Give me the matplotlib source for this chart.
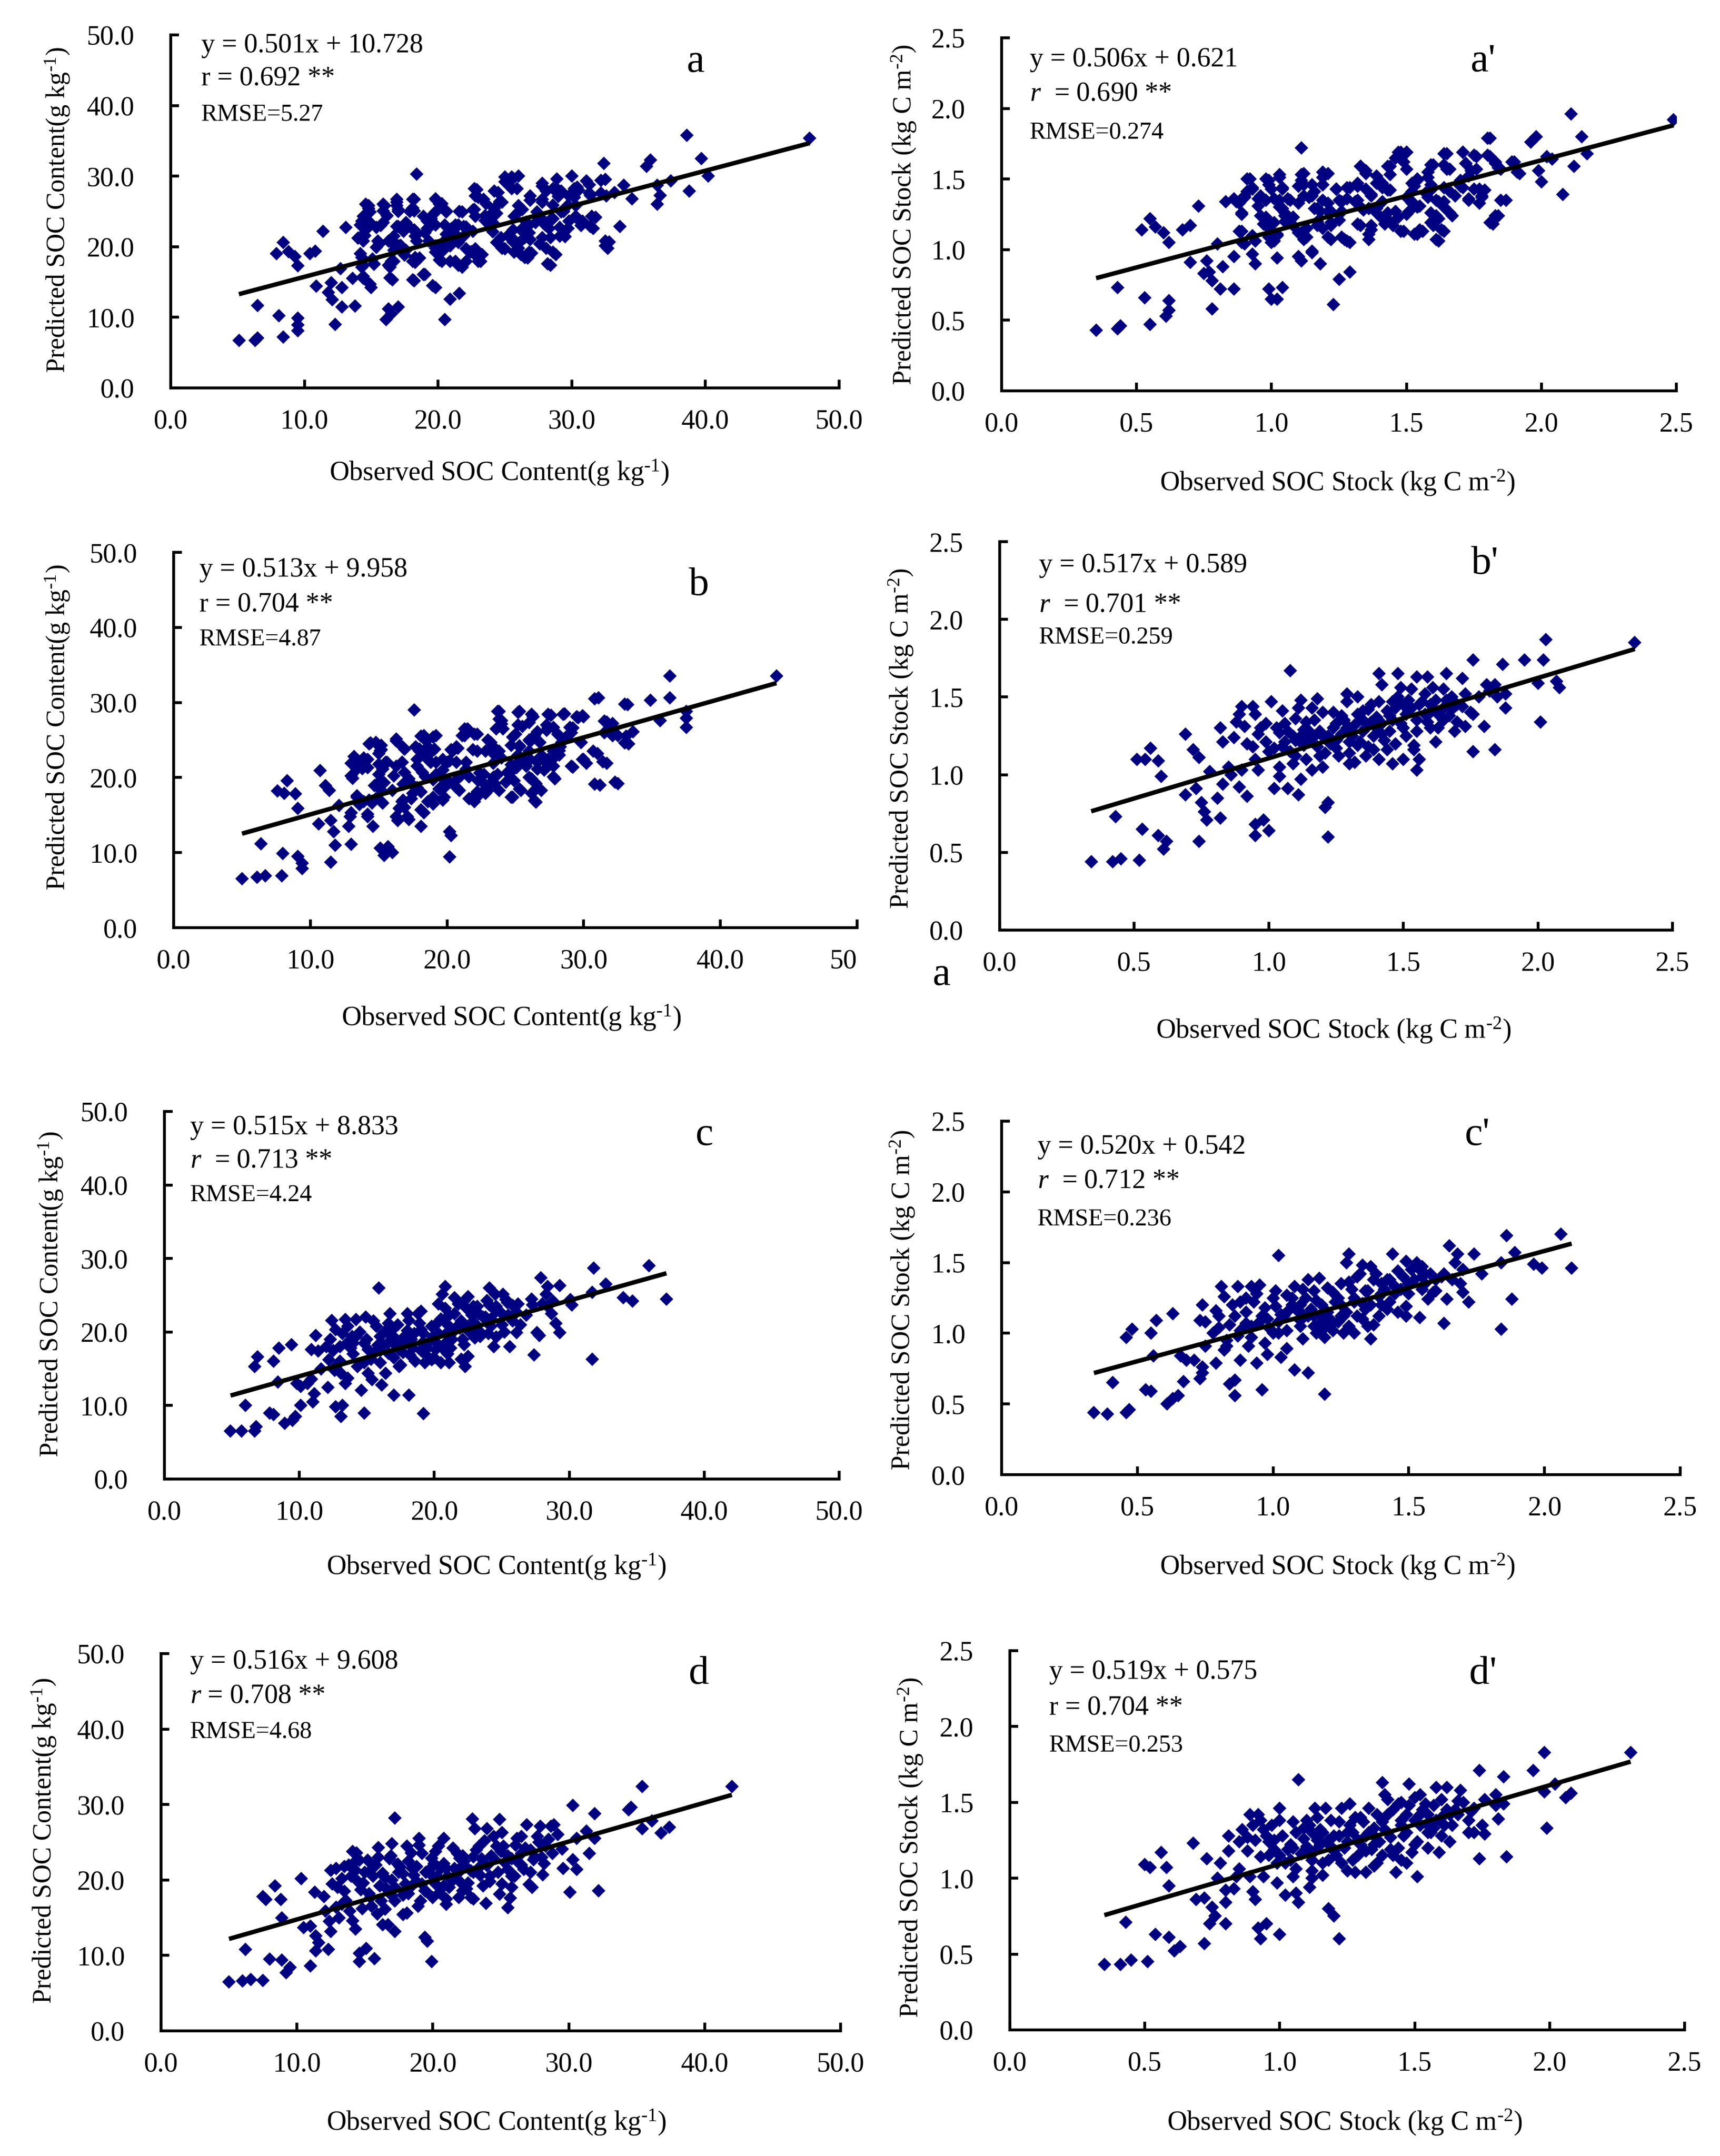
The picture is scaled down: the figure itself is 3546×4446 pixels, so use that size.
import numpy as np
import matplotlib
matplotlib.use("Agg")
import matplotlib.pyplot as plt

plt.rcParams["font.family"] = ["Liberation Serif", "DejaVu Serif"]
plt.rcParams["mathtext.fontset"] = "custom"
plt.rcParams["mathtext.rm"] = "Liberation Serif"
plt.rcParams["mathtext.it"] = "Liberation Serif:italic"

# ---- data: (observed, predicted) ----
pts_a = [(5.1,6.7),(6.3,6.7),(6.5,7.1),(6.5,11.7),(8.1,10.2),(8.4,7.2),(7.9,19.0),(8.4,20.6),(8.8,19.3),
         (9.3,18.6),(9.5,17.3),(9.5,9.9),(9.5,8.9),(9.5,8.1),(10.4,19.0),(10.8,19.4),(10.9,14.4),(11.4,22.2),
         (11.8,13.5),(12.0,14.9),(12.1,12.5),(12.3,9.0),(12.7,16.9),(12.8,14.2),(12.8,11.5),(13.1,22.7),
         (13.6,15.5),(13.8,11.6),(14.0,21.2),(14.2,23.1),(14.3,18.5),(14.4,15.5),(14.3,17.1),(14.8,25.8),
         (14.9,24.9),(14.7,22.6),(14.5,21.6),(15.0,14.2),(15.2,17.5),(15.6,20.4),(15.7,23.0),(16.0,25.8),
         (16.2,24.4),(16.1,9.7),(16.3,11.2),(16.5,10.5),(16.6,15.3),(16.4,17.1),(16.7,17.9),(16.9,26.3),
         (17.0,25.0),(17.0,11.5),(16.7,20.7),(17.2,20.2),(17.6,19.5),(17.0,22.9),(17.7,23.1),(18.2,15.2),
         (18.4,30.3),(18.2,26.7),(18.2,25.1),(18.3,22.1),(18.6,18.4),(18.3,17.8),(19.0,16.1),(19.2,22.6),
         (19.4,24.0),(19.8,24.9),(19.8,14.2),(19.9,26.6),(20.1,26.0),(19.8,19.8),(20.0,19.1),(20.3,17.9),
         (20.4,20.7),(20.6,24.9),(20.5,9.7),(20.9,12.6),(21.6,13.4),(21.3,17.9),(21.8,17.1),(21.0,22.6),
         (21.5,23.1),(22.1,22.8),(21.8,24.9),(22.5,19.3),(22.8,19.7),(22.9,28.1),(22.7,25.3),(23.0,27.0),
         (23.2,17.9),(23.3,18.9),(23.5,24.4),(23.9,23.0),(24.1,22.1),(24.5,27.7),(24.8,26.3),(24.5,20.5),
         (24.8,19.8),(25.2,29.0),(25.6,29.7),(26.0,30.0),(25.9,28.2),(25.2,21.6),(25.6,20.7),(26.0,19.8),
         (26.2,18.9),(26.3,25.3),(26.6,23.5),(26.9,26.6),(26.7,18.4),(27.0,19.1),(26.9,21.0),(27.4,24.9),
         (27.8,26.3),(27.8,28.6),(28.1,27.9),(28.0,23.5),(28.3,22.6),(28.1,19.8),(28.4,17.4),(28.9,29.6),
         (29.2,27.9),(28.8,18.9),(29.2,24.9),(29.5,21.4),(29.7,22.6),(30.0,30.0),(30.1,27.2),(30.3,25.8),
         (30.4,24.0),(30.7,23.0),(30.5,28.0),(31.3,28.8),(31.4,27.3),(31.6,22.6),(31.8,24.2),(32.4,31.8),
         (32.5,29.5),(32.6,27.2),(32.7,19.8),(32.8,20.7),(33.2,27.7),(33.6,22.9),(33.9,28.7),(34.5,26.8),
         (35.6,31.4),(35.9,32.3),(36.4,28.7),(36.6,27.3),(36.4,26.0),(37.4,29.3),(38.6,35.8),(38.8,27.9),
         (39.7,32.5),(40.2,30.0),(47.8,35.4),
         (25.0,29.9),(25.5,29.9),(25.0,29.2),(25.5,28.2),(27.8,29.0),(28.6,28.2),(28.9,28.2),(31.1,29.3),
         (32.2,29.4),(30.4,28.4),(31.3,27.6),(29.8,27.2),(26.9,27.2),(27.8,26.7),(26.0,25.8),(26.0,24.9),
         (24.2,27.9),(24.6,26.4),(22.7,28.2),(22.8,27.2),(23.4,26.7),(23.6,26.1),(24.2,25.4),(24.4,24.7),
         (22.6,25.2),(21.6,25.0),(22.8,24.3),(23.8,24.3),(23.5,23.7),(24.1,23.4),(19.8,26.8),(20.3,26.1),
         (19.7,24.7),(20.6,25.1),(19.5,24.0),(18.1,26.7),(18.1,25.5),(17.9,25.0),(16.9,26.7),(16.9,25.8),
         (17.0,25.3),(15.9,26.0),(15.9,25.1),(14.6,26.0),(14.8,25.4),(14.4,24.3),(14.3,23.6),(14.4,22.7),
         (14.9,23.4),(15.4,22.7),(15.9,23.4),(16.9,22.9),(17.6,23.4),(17.4,22.2),(16.7,21.5),(16.3,20.8),
         (15.5,20.8),(14.4,21.8),(14.4,20.8),(18.2,22.4),(18.3,21.5),(18.4,20.8),(18.9,24.3),(19.2,23.6),
         (19.4,22.9),(19.0,22.0),(19.8,23.1),(20.5,23.1),(21.3,23.1),(21.9,22.9),(19.3,20.8),(19.8,20.1),
         (19.8,19.2),(20.4,19.5),(20.9,20.1),(20.6,21.8),(20.9,20.8),(21.2,22.0),(21.9,21.5),(22.6,22.2),
         (21.5,20.6),(22.1,19.7),(22.4,19.2),(22.8,18.8),(22.1,17.9),(23.0,17.9),(21.5,17.4),(20.9,17.9),
         (20.1,18.1),(18.3,18.5),(18.1,17.9),(16.5,17.9),(16.3,17.4),(15.2,17.6),(15.1,18.3),(14.4,17.4),
         (14.2,19.0),(15.4,19.9),(17.1,20.1),(16.5,20.6),(16.7,19.5),(17.5,18.8),(24.4,20.6),(24.7,21.3),
         (25.5,21.3),(25.0,19.7),(25.7,19.2),(26.1,20.6),(26.5,18.5),(26.8,19.2),(27.6,20.4),(27.8,21.3),
         (28.6,19.2),(28.2,17.6),(28.4,21.3),(29.1,21.5),(29.4,22.0),(29.1,22.7),(26.2,22.4),(26.7,22.9),
         (27.3,23.4),(27.8,23.8),(28.0,23.1),(28.5,24.0),(29.8,23.6),(30.3,24.3),(30.8,23.6),(31.4,22.9),
         (31.5,24.3),(32.5,20.1),(32.5,20.8),(26.5,21.3),(26.8,22.0),(25.6,22.4),(25.7,24.3),(28.6,24.0),
         (29.4,25.0),(29.7,25.9),(28.6,25.9),(29.0,27.1),(30.2,27.0),(30.2,28.2),(32.2,27.6),(14.4,15.8),
         (14.9,14.7),(16.4,15.6),(18.1,15.3),(18.9,16.1),(19.6,14.5)]

pts_a2 = [(0.35,0.43),(0.43,0.44),(0.44,0.46),(0.43,0.73),(0.52,1.14),(0.53,0.66),(0.55,1.22),(0.57,1.16),
          (0.55,0.47),(0.60,1.12),(0.62,1.05),(0.62,0.64),(0.62,0.57),(0.61,0.53),(0.67,1.14),(0.70,1.17),
          (0.70,0.91),(0.73,1.31),(0.76,0.92),(0.77,0.84),(0.75,0.83),(0.78,0.78),(0.78,0.58),(0.80,1.04),
          (0.81,0.72),(0.82,0.88),(0.83,1.34),(0.86,0.95),(0.86,0.72),(0.87,1.34),(0.89,1.25),(0.90,1.38),
          (0.89,1.13),(0.90,1.04),(0.92,1.50),(0.93,1.43),(0.93,0.97),(0.94,0.90),(0.94,1.06),(0.95,1.31),
          (0.96,1.38),(0.98,1.23),(0.99,1.15),(0.99,1.49),(1.00,1.43),(0.99,0.72),(1.00,0.65),(1.01,1.36),
          (1.01,1.06),(1.02,1.10),(1.02,0.94),(1.02,0.65),(1.03,1.51),(1.04,1.43),(1.04,0.73),(1.04,1.29),
          (1.05,1.24),(1.07,1.35),(1.08,1.17),(1.11,0.92),(1.11,1.72),(1.12,1.54),(1.12,1.46),(1.12,1.38),
          (1.13,1.15),(1.13,1.09),(1.11,1.12),(1.15,0.98),(1.15,1.38),(1.17,1.29),(1.17,1.20),(1.18,0.90),
          (1.19,1.46),(1.21,1.54),(1.21,1.27),(1.22,1.17),(1.22,1.07),(1.23,0.61),(1.25,0.79),(1.24,1.43),
          (1.26,1.34),(1.26,1.27),(1.27,1.07),(1.29,0.84),(1.29,1.05),(1.29,1.44),(1.31,1.34),(1.32,1.45),
          (1.33,1.59),(1.35,1.54),(1.33,1.17),(1.34,1.28),(1.36,1.07),(1.37,1.14),(1.37,1.38),(1.39,1.47),
          (1.39,1.29),(1.41,1.34),(1.42,1.21),(1.44,1.42),(1.44,1.59),(1.45,1.17),(1.47,1.23),(1.47,1.69),
          (1.48,1.64),(1.50,1.69),(1.50,1.57),(1.49,1.13),(1.51,1.27),(1.52,1.34),(1.53,1.45),(1.54,1.49),
          (1.54,1.11),(1.56,1.13),(1.55,1.31),(1.57,1.40),(1.58,1.55),(1.60,1.60),(1.60,1.17),(1.61,1.24),
          (1.62,1.06),(1.62,1.34),(1.64,1.34),(1.64,1.13),(1.65,1.68),(1.66,1.57),(1.67,1.24),(1.68,1.38),
          (1.70,1.45),(1.71,1.69),(1.72,1.61),(1.73,1.52),(1.73,1.35),(1.75,1.43),(1.76,1.57),(1.76,1.66),
          (1.78,1.38),(1.79,1.42),(1.81,1.79),(1.81,1.66),(1.83,1.61),(1.85,1.57),(1.82,1.18),(1.84,1.24),
          (1.87,1.35),(1.90,1.62),(1.92,1.54),(1.96,1.76),(1.98,1.80),(1.99,1.56),(2.00,1.48),(2.02,1.66),
          (2.04,1.64),(2.08,1.39),(2.11,1.96),(2.12,1.59),(2.15,1.80),(2.17,1.68),(2.49,1.92),
          (1.48,1.69),(1.50,1.69),(1.46,1.65),(1.49,1.62),(1.64,1.68),(1.71,1.69),(1.75,1.67),(1.80,1.79),
          (1.80,1.67),(1.83,1.62),(1.84,1.58),(1.89,1.62),(1.91,1.55),(1.59,1.60),(1.64,1.60),(1.65,1.57),
          (1.72,1.61),(1.74,1.56),(1.33,1.59),(1.35,1.56),(1.43,1.59),(1.44,1.53),(1.39,1.52),(1.41,1.47),
          (1.19,1.55),(1.19,1.51),(1.11,1.53),(1.11,1.49),(1.10,1.45),(1.03,1.53),(0.98,1.50),(0.99,1.46),
          (1.04,1.44),(0.91,1.50),(0.93,1.44),(0.91,1.41),(0.86,1.36),(0.90,1.37),(0.88,1.33),(0.95,1.36),
          (0.98,1.35),(0.89,1.26),(0.96,1.24),(0.98,1.21),(1.03,1.35),(1.03,1.30),(1.06,1.36),(1.05,1.26),
          (1.08,1.23),(1.10,1.33),(1.14,1.37),(1.16,1.41),(1.15,1.46),(1.19,1.46),(1.24,1.43),(1.28,1.44),
          (1.32,1.47),(1.35,1.43),(1.37,1.39),(1.41,1.44),(1.43,1.42),(1.19,1.35),(1.21,1.33),(1.25,1.35),
          (1.28,1.36),(1.32,1.35),(1.16,1.29),(1.18,1.27),(1.22,1.27),(1.25,1.25),(1.08,1.23),(1.05,1.20),
          (0.97,1.18),(1.01,1.19),(0.88,1.13),(0.93,1.10),(0.89,1.05),(0.99,1.09),(1.02,1.11),(1.00,1.05),
          (1.10,1.12),(1.12,1.07),(1.17,1.17),(1.19,1.15),(1.22,1.19),(1.25,1.21),(1.33,1.30),(1.36,1.29),
          (1.39,1.26),(1.41,1.22),(1.43,1.26),(1.46,1.27),(1.50,1.25),(1.52,1.33),(1.54,1.30),(1.50,1.37),
          (1.52,1.41),(1.52,1.47),(1.54,1.50),(1.58,1.51),(1.59,1.46),(1.59,1.42),(1.58,1.37),(1.61,1.35),
          (1.64,1.44),(1.66,1.41),(1.70,1.49),(1.71,1.44),(1.77,1.43),(1.78,1.37),(1.73,1.36),(1.77,1.33),
          (1.85,1.35),(1.83,1.24),(1.81,1.19),(1.64,1.30),(1.66,1.26),(1.59,1.26),(1.62,1.22),(1.59,1.19),
          (1.63,1.14),(1.61,1.07),(1.55,1.14),(1.53,1.11),(1.48,1.13),(1.44,1.20),(1.42,1.18),(1.37,1.17),
          (1.36,1.11),(1.32,1.18),(1.28,1.06),(1.26,1.09),(1.21,1.09),(1.15,0.99),(1.10,0.95)]

pts_b = [(5.0,6.5),(6.1,6.7),(6.7,6.9),(6.4,11.2),(7.6,18.2),(8.1,17.9),(7.9,6.9),(8.0,9.9),(8.3,19.6),
         (8.9,17.8),(9.1,15.9),(9.1,9.5),(9.4,8.6),(9.4,7.9),(10.6,13.8),(10.7,20.9),(11.1,18.9),(11.4,18.3),
         (11.5,14.3),(11.7,12.8),(11.8,11.0),(11.5,8.7),(12.1,16.3),(12.8,13.5),(12.9,14.8),(13.0,11.1),
         (13.0,21.9),(13.1,19.9),(13.4,17.4),(13.6,16.4),(13.8,21.2),(13.9,22.6),(14.2,14.8),(14.4,24.6),
         (14.6,13.5),(14.3,17.0),(14.5,16.6),(14.8,24.6),(15.0,21.8),(15.1,23.6),(15.1,10.6),(15.4,9.6),
         (15.3,16.6),(15.4,19.3),(15.6,22.0),(15.7,10.8),(16.0,10.0),(16.0,18.3),(16.3,24.9),(16.4,14.3),
         (16.7,22.0),(16.9,23.8),(16.8,17.0),(16.9,16.0),(17.2,14.4),(17.3,19.3),(17.5,17.9),(17.6,29.0),
         (17.8,22.4),(18.0,23.8),(18.1,13.5),(18.3,15.3),(18.3,25.6),(18.5,24.9),(18.4,20.1),(18.8,22.0),
         (19.0,19.7),(19.0,16.5),(19.2,25.6),(19.1,23.8),(19.5,18.6),(19.8,17.4),(19.7,21.0),(20.0,22.0),
         (20.2,12.8),(20.3,12.3),(20.2,9.4),(20.4,23.5),(20.6,19.6),(20.8,23.9),(20.9,18.3),(21.3,25.6),
         (21.5,26.5),(21.4,22.0),(21.6,20.1),(21.8,17.2),(22.0,17.4),(22.2,23.5),(22.2,25.8),(22.4,20.6),
         (22.7,19.2),(22.8,17.9),(23.0,18.3),(23.2,24.7),(23.4,21.9),(23.5,20.1),(23.5,19.2),(23.8,18.3),
         (23.8,28.8),(24.0,27.6),(24.1,26.5),(23.8,23.5),(24.0,22.6),(24.6,20.6),(24.8,17.4),(25.0,25.8),
         (25.3,24.2),(25.3,28.8),(25.5,26.8),(25.4,18.3),(25.6,22.4),(25.8,21.5),(26.1,24.8),(26.3,28.1),
         (26.2,19.8),(26.5,19.2),(26.5,16.7),(26.6,26.1),(26.8,22.7),(26.9,18.3),(27.1,21.0),(27.4,26.6),
         (27.6,28.3),(27.7,22.4),(27.8,21.5),(27.9,19.8),(28.2,23.6),(28.4,24.7),(28.6,28.5),(28.8,25.6),
         (29.2,26.6),(29.2,21.4),(29.6,28.0),(29.8,24.7),(30.0,28.1),(30.0,22.4),(30.2,21.9),(31.0,23.2),
         (31.1,30.6),(31.2,19.0),(31.7,21.9),(31.7,27.4),(32.1,26.5),(32.1,27.2),(32.5,19.2),(32.5,25.6),
         (33.2,29.7),(33.3,24.5),(33.6,26.1),(34.9,30.3),(35.6,27.6),(36.3,33.5),(36.3,30.6),(37.5,28.8),
         (37.5,27.9),(37.5,26.7),(44.1,33.5),
         (23.7,28.8),(25.2,28.7),(26.2,28.4),(27.4,28.4),(28.5,28.4),(29.5,28.1),(29.9,28.2),(30.8,30.5),
         (33.0,29.8),(23.8,27.8),(24.0,27.1),(25.2,27.0),(26.0,27.3),(27.3,27.0),(27.8,26.7),(29.0,26.7),
         (29.1,26.0),(31.5,27.5),(31.9,26.9),(33.1,25.5),(33.0,24.6),(31.5,26.0),(32.1,25.6),(29.8,24.7),
         (23.6,26.5),(21.3,26.5),(22.0,25.8),(21.1,25.6),(18.1,25.5),(19.0,25.4),(16.3,25.1),(14.3,24.5),
         (14.8,24.7),(15.2,24.3),(16.8,24.0),(15.2,23.7),(15.0,23.2),(17.7,24.1),(18.0,23.5),(18.6,24.1),
         (18.9,23.5),(20.3,23.7),(20.7,24.1),(21.9,23.7),(23.0,25.0),(23.4,24.1),(22.8,23.5),(23.4,23.2),
         (24.8,25.4),(24.7,24.3),(25.3,24.1),(26.0,25.0),(26.4,25.6),(26.8,24.7),(27.3,26.3),(28.1,25.8),
         (28.6,25.2),(28.3,24.1),(27.8,23.5),(28.2,23.0),(27.0,22.8),(27.4,22.4),(26.6,22.0),(27.4,21.7),
         (26.0,23.5),(26.1,22.4),(25.2,23.0),(25.3,22.2),(30.7,23.5),(29.9,22.4),(31.4,22.1),(29.1,21.5),
         (26.6,21.1),(27.8,20.1),(24.7,21.7),(25.1,21.3),(24.4,20.7),(23.7,20.4),(23.4,20.0),(23.1,19.1),
         (24.3,19.4),(24.9,19.6),(26.0,20.0),(26.4,19.4),(26.5,18.5),(26.2,17.9),(25.3,18.5),(24.7,17.4),
         (26.4,16.9),(30.8,19.1),(32.3,19.4),(22.7,20.4),(22.3,19.6),(22.8,18.5),(22.2,18.1),(21.6,17.2),
         (22.3,17.6),(22.0,16.8),(20.7,18.7),(20.2,19.4),(21.0,20.2),(21.4,21.1),(20.7,22.0),(20.2,22.2),
         (19.7,22.4),(19.2,22.0),(18.4,22.8),(18.6,22.4),(17.8,21.5),(18.2,20.7),(19.2,20.4),(19.7,19.8),
         (19.4,18.5),(19.8,18.7),(19.7,17.0),(19.0,17.4),(18.6,16.8),(18.1,15.7),(17.4,17.2),(16.7,16.8),
         (16.5,15.9),(17.8,18.7),(18.1,18.1),(16.8,19.1),(17.2,19.8),(16.7,22.0),(16.3,21.5),(16.9,20.7),
         (16.1,20.2),(15.5,22.0),(15.3,21.1),(15.0,20.4),(15.1,19.6),(14.7,18.9),(15.2,18.3),(14.2,22.4),
         (13.6,22.0),(13.4,21.1),(14.2,21.3),(13.0,20.2),(13.1,22.0),(13.4,17.6),(13.9,16.8),(14.8,17.2),
         (15.2,16.8),(13.0,15.3),(14.2,15.1),(13.2,22.8),(16.3,14.8),(17.1,14.8)]

pts_b2 = [(0.34,0.44),(0.42,0.44),(0.45,0.46),(0.43,0.73),(0.52,0.45),(0.53,0.65),(0.51,1.10),(0.54,1.10),
          (0.56,1.17),(0.59,1.09),(0.60,0.99),(0.59,0.61),(0.61,0.52),(0.62,0.57),(0.69,1.26),(0.69,0.87),
          (0.72,1.16),(0.74,1.11),(0.73,0.91),(0.75,0.82),(0.76,0.76),(0.77,0.71),(0.74,0.57),(0.78,1.02),
          (0.81,0.85),(0.83,0.94),(0.82,1.30),(0.83,1.21),(0.82,0.72),(0.85,1.05),(0.86,1.00),(0.87,1.24),
          (0.88,1.34),(0.89,0.92),(0.89,1.39),(0.90,1.44),(0.91,1.31),(0.90,1.03),(0.92,0.86),(0.94,1.44),
          (0.95,1.39),(0.94,1.18),(0.95,1.10),(0.95,0.61),(0.95,0.68),(0.98,0.71),(1.00,0.64),(0.96,1.03),
          (0.97,1.30),(0.99,1.21),(1.01,1.47),(1.02,0.91),(1.03,1.30),(1.04,1.05),(1.04,0.99),(1.05,1.41),
          (1.06,1.21),(1.07,0.91),(1.07,1.28),(1.08,1.67),(1.09,1.07),(1.10,1.12),(1.11,1.43),(1.12,1.48),
          (1.11,0.87),(1.12,0.97),(1.12,1.25),(1.13,1.19),(1.14,1.34),(1.16,1.03),(1.16,1.43),(1.18,1.49),
          (1.17,1.25),(1.19,1.12),(1.20,1.05),(1.21,0.79),(1.22,0.82),(1.22,0.60),(1.23,1.20),(1.24,1.40),
          (1.25,1.33),(1.26,1.12),(1.29,1.47),(1.29,1.52),(1.29,1.30),(1.30,1.21),(1.30,1.07),(1.32,1.08),
          (1.33,1.39),(1.33,1.50),(1.33,1.19),(1.35,1.28),(1.36,1.12),(1.37,1.42),(1.38,1.34),(1.39,1.16),
          (1.41,1.10),(1.41,1.47),(1.41,1.65),(1.42,1.58),(1.42,1.26),(1.44,1.16),(1.45,1.28),(1.46,1.47),
          (1.47,1.43),(1.46,1.07),(1.48,1.65),(1.49,1.56),(1.50,1.30),(1.51,1.39),(1.50,1.10),(1.52,1.48),
          (1.53,1.43),(1.54,1.19),(1.54,1.16),(1.55,1.03),(1.55,1.63),(1.56,1.10),(1.57,1.47),(1.58,1.39),
          (1.59,1.34),(1.60,1.30),(1.59,1.63),(1.61,1.56),(1.62,1.21),(1.63,1.39),(1.65,1.43),(1.66,1.65),
          (1.66,1.48),(1.69,1.28),(1.70,1.34),(1.72,1.62),(1.73,1.31),(1.72,1.44),(1.76,1.74),(1.76,1.39),
          (1.76,1.15),(1.80,1.31),(1.81,1.58),(1.82,1.54),(1.84,1.58),(1.85,1.50),(1.84,1.16),(1.87,1.71),
          (1.88,1.43),(1.88,1.52),(1.95,1.74),(2.00,1.59),(2.01,1.34),(2.02,1.74),(2.03,1.87),(2.07,1.60),
          (2.08,1.56),(2.36,1.85),
          (1.00,1.15),(1.05,1.18),(1.10,1.22),(1.15,1.28),(1.20,1.25),(1.25,1.22),(1.30,1.30),(1.35,1.35),
          (1.40,1.30),(1.45,1.38),(1.50,1.45),(1.55,1.35),(1.60,1.45),(1.65,1.35),(1.68,1.42),(1.27,1.38),
          (0.92,1.20),(0.96,1.26),(0.99,1.33),(1.02,1.17),(1.04,1.27),(1.06,1.33),(1.08,1.15),(1.09,1.25),
          (1.10,1.36),(1.13,1.29),(1.14,1.10),(1.15,1.22),(1.17,1.35),(1.18,1.18),(1.19,1.28),(1.20,1.40),
          (1.21,1.14),(1.22,1.25),(1.24,1.30),(1.25,1.17),(1.27,1.26),(1.28,1.35),(1.30,1.14),(1.31,1.25),
          (1.32,1.32),(1.34,1.21),(1.35,1.41),(1.36,1.30),(1.37,1.18),(1.38,1.45),(1.39,1.25),(1.40,1.37),
          (1.42,1.33),(1.43,1.22),(1.44,1.41),(1.46,1.35),(1.47,1.20),(1.48,1.50),(1.49,1.33),(1.51,1.25),
          (1.52,1.41),(1.53,1.55),(1.55,1.28),(1.56,1.45),(1.58,1.52),(1.60,1.40),(1.62,1.48),(1.63,1.30),
          (1.65,1.55),(1.67,1.38),(1.68,1.50),(1.70,1.45),(1.73,1.52),(1.75,1.40),(1.78,1.50)]

pts_c = [(4.9,6.5),(5.7,6.5),(6.7,6.5),(6.8,7.1),(6.0,10.0),(6.7,15.3),(6.9,16.6),(8.1,16.0),(7.8,9.0),
         (8.1,8.8),(8.5,17.8),(8.4,13.2),(8.9,7.6),(9.5,8.0),(9.7,8.5),(9.4,18.3),(9.8,13.0),(10.1,12.6),
         (10.1,10.0),(10.6,13.0),(10.9,13.6),(11.0,10.5),(11.1,11.6),(10.9,17.6),(11.4,17.4),(11.2,19.5),
         (12.1,12.5),(12.2,16.2),(12.3,19.0),(12.4,21.6),(12.7,20.3),(12.7,9.8),(13.1,8.5),(13.2,10.0),
         (13.1,14.4),(13.4,13.0),(13.6,13.7),(13.4,21.7),(13.6,20.8),(13.9,19.4),(13.5,18.5),(14.2,21.7),
         (14.2,19.4),(14.3,15.3),(14.6,12.1),(14.8,9.0),(14.9,22.0),(14.8,18.5),(15.1,17.6),(15.1,14.4),
         (15.4,13.5),(15.9,26.0),(15.7,20.8),(16.0,19.4),(16.0,15.8),(16.1,12.8),(16.4,14.4),(16.6,17.1),
         (16.6,21.2),(16.9,20.3),(17.0,11.4),(18.1,11.4),(17.2,18.0),(17.4,17.6),(17.4,15.3),(18.0,22.5),
         (18.1,21.6),(17.8,19.4),(18.1,18.5),(18.2,16.9),(18.4,17.8),(18.8,22.5),(19.0,20.3),(19.1,18.5),
         (19.2,8.9),(19.3,15.8),(19.5,16.7),(19.9,19.4),(20.1,17.6),(20.1,21.0),(20.5,15.8),(20.7,17.6),
         (20.6,25.1),(20.8,26.2),(20.8,23.2),(21.1,22.3),(21.1,15.8),(21.3,19.0),(21.5,24.7),(21.8,23.8),
         (21.7,20.8),(22.1,19.0),(22.2,24.2),(22.4,23.2),(22.3,15.3),(22.5,16.7),(22.8,22.3),(23.0,21.2),
         (23.3,22.5),(23.4,19.4),(24.1,26.0),(24.1,23.7),(24.2,20.8),(24.4,18.0),(24.5,25.1),(24.6,19.3),
         (25.1,25.1),(25.3,24.4),(25.5,22.3),(25.6,18.0),(25.8,23.6),(26.1,22.7),(26.1,19.9),(26.4,21.0),
         (27.3,23.7),(27.4,16.9),(27.6,19.9),(27.8,19.5),(27.9,27.4),(28.3,25.1),(28.4,26.2),(28.4,23.5),
         (28.7,22.5),(29.0,21.2),(29.3,26.3),(29.3,19.9),(30.1,24.4),(30.2,23.7),(31.7,25.4),(31.8,28.7),
         (31.7,16.3),(32.7,26.5),(34.0,24.7),(34.7,24.2),(35.9,29.0),(37.2,24.5),
         (15.5,17.0),(16.2,18.2),(17.0,16.5),(17.6,19.0),(18.5,19.8),(19.0,17.5),(19.6,18.6),(20.3,19.8),
         (20.8,18.5),(21.5,20.2),(22.0,21.5),(22.6,20.0),(23.2,23.5),(23.8,22.0),(24.6,22.8),(25.0,21.0),
         (14.0,17.0),(13.0,16.0),(12.6,14.8),(16.8,19.5),(19.8,16.2),(21.0,17.0),
         (12.5,17.5),(13.0,18.0),(13.8,17.8),(14.5,20.0),(15.0,19.0),(15.3,16.3),(15.8,18.2),(16.3,20.0),
         (16.6,18.6),(17.0,19.3),(17.3,21.0),(17.7,17.2),(18.0,20.2),(18.3,19.0),(18.6,16.0),(18.9,21.2),
         (19.2,19.8),(19.5,17.8),(19.8,20.8),(20.2,18.5),(20.5,21.8),(20.9,19.8),(21.2,17.8),(21.5,22.5),
         (21.9,20.5),(22.2,18.3),(22.6,21.0),(22.9,23.5),(23.3,20.2),(23.6,22.0),(23.9,24.3),(24.2,21.8),
         (24.6,23.5),(25.0,22.5),(25.4,24.0),(25.8,21.5),(26.2,23.8),(26.8,22.3),(27.2,24.5),(28.0,23.8),
         (28.8,24.2),(16.0,17.5),(14.0,18.5),(13.2,19.8),(12.0,18.0),(11.6,15.0),(12.8,15.5),(14.8,15.8),
         (17.5,15.5),(20.0,16.5),(22.0,16.3),(23.0,19.2),(19.0,22.8),(20.3,23.8),(21.0,21.0),(22.5,24.8),
         (24.0,19.8),(25.2,20.0),(16.7,22.5),(15.5,21.5)]

pts_c2 = [(0.34,0.44),(0.39,0.43),(0.46,0.44),(0.47,0.46),(0.41,0.65),(0.46,0.97),(0.48,1.03),(0.53,0.60),
          (0.55,0.59),(0.55,1.00),(0.56,0.84),(0.57,1.09),(0.61,0.50),(0.63,0.54),(0.65,0.56),(0.63,1.14),
          (0.66,0.84),(0.68,0.81),(0.67,0.66),(0.71,0.81),(0.73,1.09),(0.75,1.08),(0.73,0.68),(0.74,0.72),
          (0.74,0.76),(0.74,1.20),(0.75,0.91),(0.79,0.79),(0.79,1.16),(0.80,1.04),(0.81,1.33),(0.82,1.26),
          (0.82,0.88),(0.83,0.91),(0.84,0.64),(0.86,0.67),(0.86,0.56),(0.84,1.06),(0.86,1.12),(0.87,1.33),
          (0.88,1.22),(0.87,0.98),(0.88,0.81),(0.90,1.25),(0.90,1.07),(0.91,0.91),(0.92,1.33),(0.93,1.22),
          (0.94,0.79),(0.95,1.34),(0.96,0.60),(0.96,1.12),(0.97,0.93),(0.98,0.85),(1.00,1.25),(1.01,1.19),
          (1.00,1.00),(1.02,1.00),(1.02,1.55),(1.03,0.83),(1.05,0.89),(1.04,1.12),(1.05,1.27),(1.07,1.25),
          (1.08,0.74),(1.09,1.16),(1.10,1.09),(1.11,0.96),(1.11,1.31),(1.13,1.38),(1.13,0.72),(1.14,1.17),
          (1.15,1.12),(1.16,1.23),(1.17,1.39),(1.18,1.02),(1.19,0.97),(1.19,0.57),(1.20,1.07),(1.21,1.05),
          (1.22,1.29),(1.23,1.22),(1.25,1.12),(1.26,1.00),(1.27,1.50),(1.28,1.56),(1.28,1.36),(1.29,1.31),
          (1.30,1.00),(1.31,1.12),(1.32,1.42),(1.33,1.48),(1.33,1.21),(1.34,1.17),(1.36,1.47),(1.37,1.38),
          (1.36,0.96),(1.37,1.06),(1.39,1.26),(1.40,1.35),(1.41,1.31),(1.42,1.17),(1.43,1.38),(1.44,1.56),
          (1.46,1.44),(1.47,1.31),(1.49,1.12),(1.49,1.19),(1.49,1.51),(1.51,1.45),(1.53,1.50),(1.55,1.47),
          (1.56,1.42),(1.54,1.11),(1.55,1.31),(1.57,1.24),(1.59,1.29),(1.63,1.07),(1.63,1.42),(1.64,1.24),
          (1.65,1.62),(1.67,1.50),(1.68,1.56),(1.69,1.35),(1.70,1.29),(1.72,1.22),(1.74,1.56),(1.77,1.42),
          (1.84,1.03),(1.84,1.50),(1.86,1.69),(1.88,1.24),(1.89,1.57),(1.96,1.49),(1.99,1.46),(2.06,1.70),
          (2.10,1.46),
          (1.05,1.15),(1.10,1.20),(1.15,1.05),(1.20,1.15),(1.25,1.20),(1.30,1.25),(1.35,1.30),(1.40,1.20),
          (1.45,1.28),(1.50,1.35),(1.55,1.40),(1.60,1.38),(1.24,1.08),(1.18,1.12),(0.98,1.10),(0.92,1.05),
          (0.78,1.00),(0.80,1.12),(0.83,0.95),(0.85,1.20),(0.88,1.02),(0.90,1.15),(0.92,0.97),(0.94,1.28),
          (0.95,1.08),(0.97,1.18),(0.99,1.03),(1.01,1.30),(1.03,1.13),(1.05,1.02),(1.07,1.20),(1.08,1.33),
          (1.10,1.05),(1.12,1.25),(1.13,1.12),(1.15,1.30),(1.16,1.00),(1.18,1.20),(1.20,1.32),(1.21,1.10),
          (1.22,1.02),(1.24,1.25),(1.25,1.35),(1.27,1.15),(1.28,1.05),(1.30,1.22),(1.31,1.40),(1.33,1.10),
          (1.34,1.30),(1.36,1.20),(1.38,1.42),(1.39,1.12),(1.40,1.28),(1.42,1.38),(1.43,1.22),(1.45,1.33),
          (1.46,1.15),(1.48,1.40),(1.50,1.28),(1.52,1.38),(1.54,1.45),(1.56,1.35),(1.58,1.42),(1.60,1.30),
          (1.62,1.40),(1.66,1.38),(1.70,1.45),(1.18,1.08),(1.26,1.12),(1.35,1.05),(1.10,1.15),(1.02,1.08)]

pts_d = [(5.0,6.5),(6.0,6.6),(6.6,6.8),(7.5,6.7),(6.2,10.8),(7.5,17.8),(7.7,17.4),(8.0,9.5),(8.4,19.2),
         (8.8,17.4),(8.9,15.0),(8.9,9.4),(9.2,7.7),(9.5,8.4),(10.3,20.2),(10.5,13.7),(11.0,13.9),(11.0,8.6),
         (11.3,18.4),(11.4,12.6),(11.6,11.7),(11.4,10.6),(12.0,17.8),(12.1,15.9),(12.3,10.8),(12.4,14.5),
         (12.5,13.2),(12.6,19.5),(12.5,21.3),(12.9,21.5),(12.9,16.4),(13.1,15.0),(13.3,20.2),(13.5,21.8),
         (13.8,22.0),(13.6,17.3),(13.9,15.9),(14.1,14.6),(14.3,13.5),(14.1,23.8),(14.4,23.6),(14.3,21.3),
         (14.6,22.6),(14.6,10.3),(14.6,9.2),(14.7,18.7),(14.9,19.6),(14.8,16.2),(15.1,10.9),(15.2,22.6),
         (15.4,21.3),(15.4,17.7),(15.7,9.6),(15.9,15.5),(16.0,24.3),(16.1,19.2),(16.3,20.9),(16.3,14.1),
         (16.7,14.1),(16.5,16.1),(16.9,23.2),(17.0,17.9),(17.2,17.2),(17.2,28.2),(17.2,13.2),(17.4,22.1),
         (17.6,21.7),(17.8,15.4),(18.1,15.6),(18.0,19.5),(18.2,18.2),(18.1,24.5),(18.4,23.6),(18.5,21.5),
         (18.6,20.6),(18.9,16.5),(19.0,24.6),(19.2,19.5),(19.4,18.6),(19.4,12.4),(19.6,11.9),(19.9,9.2),
         (19.9,22.9),(20.1,22.2),(20.0,17.7),(20.2,19.5),(20.4,24.5),(20.8,25.5),(20.6,21.5),(20.8,19.2),
         (21.0,16.8),(21.1,20.5),(21.6,21.5),(21.8,23.5),(22.0,22.9),(21.9,17.7),(22.2,18.6),(22.4,21.8),
         (22.6,19.6),(22.8,17.7),(22.9,28.1),(23.1,26.8),(23.0,23.1),(23.4,24.5),(23.5,20.6),(23.7,19.2),
         (23.9,16.9),(24.0,21.9),(24.2,20.5),(24.5,25.8),(24.7,24.5),(24.9,28.0),(25.1,26.3),(24.9,18.1),
         (25.1,19.5),(25.3,22.3),(25.5,21.4),(25.5,16.3),(25.7,17.6),(25.8,20.5),(26.1,24.6),(26.3,22.3),
         (26.5,25.8),(26.7,21.4),(26.9,27.3),(27.1,19.4),(27.3,19.0),(27.4,22.7),(27.7,25.8),(27.9,27.1),
         (28.1,20.7),(28.3,24.5),(28.5,25.4),(28.7,27.1),(28.9,27.3),(29.5,24.1),(29.6,21.5),(30.1,18.4),
         (30.3,29.9),(30.3,22.7),(30.6,21.4),(30.6,25.5),(31.3,26.5),(31.5,23.5),(31.9,25.5),(31.9,28.8),
         (32.2,18.6),(34.4,29.3),(34.6,29.6),(35.4,32.4),(35.4,26.8),(36.1,27.8),(36.8,26.2),(37.4,27.0),
         (42.0,32.4),
         (17.0,20.0),(17.8,20.8),(18.8,19.8),(19.5,21.0),(20.3,20.5),(21.0,21.5),(21.5,20.0),(22.3,22.5),
         (23.0,21.0),(23.6,22.8),(24.3,23.2),(25.0,23.8),(25.8,22.8),(26.5,23.5),(27.2,24.0),(28.0,23.0),
         (15.6,20.5),(16.6,18.8),(19.1,17.2),(22.0,19.8),
         (13.0,19.0),(13.5,18.5),(14.0,20.5),(14.5,19.8),(15.0,21.0),(15.3,18.2),(15.8,22.0),(16.2,17.2),
         (16.5,20.3),(16.8,22.8),(17.2,19.0),(17.5,21.0),(17.8,18.0),(18.2,22.5),(18.5,19.3),(18.8,21.8),
         (19.2,23.5),(19.5,18.5),(19.8,20.8),(20.2,23.8),(20.5,18.3),(20.8,22.2),(21.2,19.0),(21.5,24.2),
         (21.8,20.8),(22.2,23.2),(22.5,18.8),(22.8,21.2),(23.2,24.0),(23.5,21.8),(23.8,25.2),(24.2,19.8),
         (24.5,22.8),(24.8,21.0),(25.2,24.5),(25.5,23.2),(25.8,19.0),(26.2,25.5),(26.5,22.0),(26.8,24.2),
         (27.2,21.0),(27.5,23.0),(27.8,25.0),(28.2,22.2),(28.8,23.5),(29.2,26.0),(16.0,23.0),(14.3,22.5),
         (13.3,16.8),(15.5,16.5),(17.0,24.8),(19.0,25.5),(21.0,17.5),(23.0,17.5),(24.0,26.8),(26.0,20.5),
         (20.0,21.8),(22.0,21.5)]

pts_d2 = [(0.35,0.43),(0.41,0.43),(0.45,0.46),(0.51,0.45),(0.43,0.71),(0.50,1.09),(0.52,1.07),(0.54,0.63),
          (0.56,1.17),(0.58,1.07),(0.59,0.61),(0.59,0.95),(0.61,0.52),(0.63,0.55),(0.68,1.23),(0.69,0.86),
          (0.72,0.87),(0.72,0.57),(0.73,1.13),(0.74,0.70),(0.75,0.81),(0.76,0.75),(0.77,1.00),(0.78,1.10),
          (0.80,0.70),(0.80,0.92),(0.80,0.84),(0.81,1.18),(0.81,1.28),(0.83,0.93),(0.84,1.01),(0.85,1.24),
          (0.85,1.06),(0.86,1.32),(0.89,1.42),(0.90,1.35),(0.88,1.27),(0.89,1.01),(0.90,0.91),(0.91,0.86),
          (0.92,1.42),(0.93,1.38),(0.92,0.67),(0.93,0.60),(0.95,0.70),(0.93,1.14),(0.94,1.01),(0.95,1.28),
          (0.96,1.24),(0.97,1.35),(0.98,1.19),(0.99,1.10),(0.99,0.97),(1.00,0.63),(1.00,1.46),(1.01,1.28),
          (1.02,0.89),(1.03,1.19),(1.04,1.12),(1.05,1.37),(1.05,1.01),(1.06,0.90),(1.07,1.65),(1.07,0.84),
          (1.06,1.06),(1.09,1.33),(1.10,1.38),(1.10,1.21),(1.11,0.94),(1.12,1.00),(1.12,1.12),(1.13,1.46),
          (1.14,1.40),(1.14,1.25),(1.16,1.30),(1.16,1.02),(1.17,1.46),(1.18,1.12),(1.18,0.80),(1.20,0.75),
          (1.19,1.21),(1.20,1.28),(1.22,0.60),(1.22,1.37),(1.23,1.10),(1.23,1.46),(1.26,1.49),(1.25,1.24),
          (1.27,1.30),(1.28,1.04),(1.29,1.15),(1.31,1.37),(1.32,1.28),(1.32,1.04),(1.33,1.46),(1.34,1.19),
          (1.35,1.33),(1.36,1.10),(1.37,1.24),(1.38,1.63),(1.39,1.55),(1.38,1.37),(1.40,1.42),(1.41,1.19),
          (1.42,1.15),(1.43,1.04),(1.44,1.49),(1.45,1.50),(1.46,1.28),(1.47,1.42),(1.47,1.10),(1.48,1.62),
          (1.49,1.17),(1.50,1.53),(1.51,1.01),(1.51,1.24),(1.52,1.42),(1.54,1.49),(1.55,1.42),(1.56,1.30),
          (1.57,1.33),(1.58,1.60),(1.59,1.17),(1.60,1.52),(1.61,1.35),(1.62,1.60),(1.63,1.42),(1.63,1.24),
          (1.66,1.51),(1.67,1.58),(1.70,1.30),(1.71,1.44),(1.72,1.30),(1.74,1.71),(1.74,1.13),(1.75,1.35),
          (1.76,1.29),(1.76,1.52),(1.80,1.55),(1.80,1.48),(1.81,1.39),(1.83,1.67),(1.83,1.49),(1.84,1.14),
          (1.94,1.71),(1.98,1.83),(1.98,1.57),(1.99,1.33),(2.02,1.62),(2.06,1.53),(2.08,1.56),(2.30,1.83),
          (1.00,1.15),(1.05,1.20),(1.10,1.18),(1.15,1.22),(1.20,1.18),(1.25,1.30),(1.30,1.22),(1.35,1.28),
          (1.40,1.30),(1.45,1.35),(1.50,1.38),(1.55,1.35),(1.60,1.40),(1.65,1.45),(1.28,1.40),(1.12,1.30),
          (0.88,1.18),(0.91,1.25),(0.94,1.32),(0.96,1.15),(0.98,1.25),(1.00,1.38),(1.02,1.10),(1.04,1.22),
          (1.06,1.30),(1.08,1.16),(1.09,1.26),(1.11,1.35),(1.13,1.18),(1.15,1.32),(1.16,1.10),(1.18,1.25),
          (1.19,1.38),(1.21,1.15),(1.22,1.28),(1.24,1.20),(1.26,1.35),(1.27,1.12),(1.29,1.25),(1.30,1.40),
          (1.32,1.18),(1.33,1.30),(1.35,1.22),(1.36,1.42),(1.38,1.15),(1.39,1.32),(1.41,1.27),(1.42,1.45),
          (1.44,1.20),(1.45,1.38),(1.47,1.30),(1.48,1.48),(1.50,1.22),(1.52,1.35),(1.53,1.45),(1.55,1.30),
          (1.57,1.48),(1.58,1.38),(1.60,1.28),(1.62,1.45),(1.64,1.35),(1.66,1.42),(1.68,1.50),(1.70,1.38),
          (1.72,1.46),(1.55,1.20),(1.45,1.12),(1.35,1.08),(1.25,1.05),(1.12,1.05),(1.40,1.52),(1.52,1.55)]

slopes = [0.501, 0.506, 0.513, 0.517, 0.515, 0.520, 0.516, 0.519]
intercepts = [10.728, 0.621, 9.958, 0.589, 8.833, 0.542, 9.608, 0.575]
eq_texts = ["y = 0.501x + 10.728", "y = 0.506x + 0.621", "y = 0.513x + 9.958", "y = 0.517x + 0.589",
            "y = 0.515x + 8.833", "y = 0.520x + 0.542", "y = 0.516x + 9.608", "y = 0.519x + 0.575"]
r_texts = ["r = 0.692 **", "$r$  = 0.690 **", "r = 0.704 **", "$r$  = 0.701 **",
           "$r$  = 0.713 **", "$r$  = 0.712 **", "$r$ = 0.708 **", "r = 0.704 **"]
rmse_texts = ["RMSE=5.27", "RMSE=0.274", "RMSE=4.87", "RMSE=0.259",
              "RMSE=4.24", "RMSE=0.236", "RMSE=4.68", "RMSE=0.253"]
letters = ["a", "a'", "b", "b'", "c", "c'", "d", "d'"]

content_ticks = [0, 10, 20, 30, 40, 50]
content_labels = ["0.0", "10.0", "20.0", "30.0", "40.0", "50.0"]
stock_ticks = [0, 0.5, 1.0, 1.5, 2.0, 2.5]
stock_labels = ["0.0", "0.5", "1.0", "1.5", "2.0", "2.5"]

all_pts = [pts_a, pts_a2, pts_b, pts_b2, pts_c, pts_c2, pts_d, pts_d2]

# ---- layout in image pixels ----
W, H = 3546, 4446
DPI = 300
fig = plt.figure(figsize=(W / DPI, H / DPI), dpi=DPI)
fig.patch.set_facecolor("white")

# axes boxes: left, right, top, bottom (px)
boxes = [(352, 1730, 72, 800), (2065, 3456, 78, 806),
         (358, 1767, 1139, 1913), (2061, 3448, 1117, 1918),
         (339, 1730, 2292, 3050), (2065, 3464, 2312, 3041),
         (332, 1733, 3410, 4188), (2082, 3473, 3404, 4186)]
# text anchors: text left x, three line centres y, letter x, letter y
txt_pos = [(415, 94, 162, 236, 1434, 128), (2123, 123, 193, 273, 3057, 127),
           (411, 1175, 1247, 1318, 1441, 1207), (2142, 1166, 1248, 1314, 3061, 1163),
           (392, 2325, 2393, 2464, 1452, 2341), (2139, 2365, 2436, 2514, 3046, 2341),
           (392, 3427, 3498, 3571, 1441, 3452), (2163, 3448, 3522, 3599, 3057, 3452)]
ylab_pos = [(119, 433), (1864, 443), (119, 1500), (1858, 1523),
            (105, 2669), (1861, 2681), (91, 3796), (1878, 3810)]
xlab_pos = [(1030, 975), (2757, 996), (1055, 2099), (2749, 2125),
            (1024, 3231), (2757, 3231), (1024, 4377), (2772, 4377)]

content_ylab = r"Predicted SOC Content(g kg$^{\text{-}1}$)"
content_xlab = r"Observed SOC Content(g kg$^{\text{-}1}$)"
stock_ylab = r"Predicted SOC Stock (kg C m$^{\text{-}2}$)"
stock_xlab = r"Observed SOC Stock (kg C m$^{\text{-}2}$)"


def fx(px):
    return px / W


def fy(py):
    return 1 - py / H


for i in range(8):
    l, r, t, b = boxes[i]
    ax = fig.add_axes([fx(l), fy(b), (r - l) / W, (b - t) / H])
    stock = (i % 2 == 1)
    data = np.array(all_pts[i])
    x, y = data[:, 0], data[:, 1]

    ax.plot(x, y, linestyle="none", marker="D", markersize=4.7,
            color="#000080", markeredgewidth=0, zorder=2)
    xl = np.array([x.min(), x.max()])
    ax.plot(xl, slopes[i] * xl + intercepts[i], color="black", lw=2.2, zorder=3,
            solid_capstyle="butt")

    if stock:
        ticks, labels = stock_ticks, list(stock_labels)
        ax.set_xlim(0, 2.5)
        ax.set_ylim(0, 2.5)
    else:
        ticks, labels = content_ticks, list(content_labels)
        ax.set_xlim(0, 50)
        ax.set_ylim(0, 50)
    ax.set_yticks(ticks)
    ax.set_yticklabels(labels)
    ax.set_xticks(ticks)
    xlabels = list(labels)
    if i == 2:
        xlabels[-1] = "50"
    ax.set_xticklabels(xlabels)
    if i == 2:
        ax.get_xticklabels()[-1].set_horizontalalignment("right")

    for s in ["top", "right"]:
        ax.spines[s].set_visible(False)
    for s in ["left", "bottom"]:
        ax.spines[s].set_linewidth(1.4)
    ax.tick_params(axis="both", direction="in", length=4, width=1.4, labelsize=13.5)
    ax.tick_params(axis="x", pad=10.5)
    ax.tick_params(axis="y", pad=18)
    ax.patch.set_alpha(0)

    tx, y1, y2, y3, lx, ly = txt_pos[i]
    fig.text(fx(tx), fy(y1), eq_texts[i], fontsize=13.5, ha="left", va="center")
    fig.text(fx(tx), fy(y2), r_texts[i], fontsize=13.5, ha="left", va="center")
    fig.text(fx(tx), fy(y3), rmse_texts[i], fontsize=12, ha="left", va="center")
    fig.text(fx(lx), fy(ly), letters[i], fontsize=20, ha="center", va="center")

    yx, yy = ylab_pos[i]
    fig.text(fx(yx), fy(yy), stock_ylab if stock else content_ylab, fontsize=13,
             rotation=90, ha="center", va="center")
    xx, xy = xlab_pos[i]
    fig.text(fx(xx), fy(xy), stock_xlab if stock else content_xlab, fontsize=13.5,
             ha="center", va="center")

# stray panel mark next to b' x axis
fig.text(fx(1941), fy(2011), "a", fontsize=20, ha="center", va="center")

fig.savefig("out.png", dpi=DPI, facecolor="white")
